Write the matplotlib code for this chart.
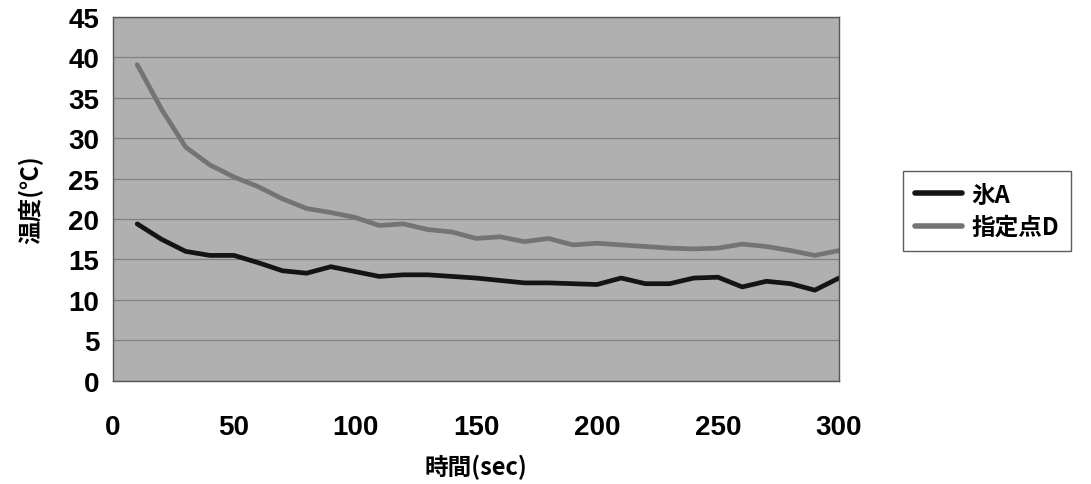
import numpy as np
import matplotlib
matplotlib.use("Agg")
import matplotlib.pyplot as plt

plt.rcParams['font.family'] = ['Liberation Sans', 'Noto Sans CJK JP', 'DejaVu Sans']

# time (sec) and temperatures
t = [10, 20, 30, 40, 50, 60, 70, 80, 90, 100,
     110, 120, 130, 140, 150, 160, 170, 180, 190, 200,
     210, 220, 230, 240, 250, 260, 270, 280, 290, 300]
ice_a = [19.4, 17.5, 16.0, 15.5, 15.5, 14.6, 13.6, 13.3, 14.1, 13.5,
         12.9, 13.1, 13.1, 12.9, 12.7, 12.4, 12.1, 12.1, 12.0, 11.9,
         12.7, 12.0, 12.0, 12.7, 12.8, 11.6, 12.3, 12.0, 11.2, 12.7]
point_d = [39.1, 33.6, 28.9, 26.7, 25.2, 24.0, 22.5, 21.3, 20.8, 20.2,
           19.2, 19.4, 18.7, 18.4, 17.6, 17.8, 17.2, 17.6, 16.8, 17.0,
           16.8, 16.6, 16.4, 16.3, 16.4, 16.9, 16.6, 16.1, 15.5, 16.1]
labels = ['氷A', '指定点D']

fig = plt.figure(figsize=(10.91, 4.85), dpi=100)
ax = fig.add_axes([0.1036, 0.213, 0.6654, 0.750])
ax.set_facecolor('#b0b0b0')

ax.plot(t, ice_a, color='#141414', lw=3.4, label=labels[0], solid_capstyle='round')
ax.plot(t, point_d, color='#747474', lw=3.4, label=labels[1], solid_capstyle='round')

ax.set_xlim(0, 300)
ax.set_ylim(0, 45)
ax.set_xticks(range(0, 301, 50))
ax.set_yticks(range(0, 46, 5))
ax.yaxis.grid(True, color='#808080', lw=0.9)
ax.set_axisbelow(True)
ax.tick_params(axis='both', length=0, labelsize=20)
ax.tick_params(axis='x', pad=24)
ax.tick_params(axis='y', pad=10)
for lab in ax.get_xticklabels():
    lab.set_family(['Liberation Sans Narrow', 'Liberation Sans'])
for lab in ax.get_xticklabels() + ax.get_yticklabels():
    lab.set_fontweight('bold')
for s in ax.spines.values():
    s.set_color('#555555')
    s.set_linewidth(1.0)

ax.set_xlabel('時間(sec)', family=['Noto Sans CJK JP', 'DejaVu Sans'],
              fontsize=17, fontweight='bold', labelpad=10)
ax.set_ylabel('温度(℃)', family=['Noto Sans CJK JP', 'DejaVu Sans'],
              fontsize=17, fontweight='bold', labelpad=18)

leg = fig.legend(loc='upper left', bbox_to_anchor=(891 / 1091, 1 - 160 / 485),
                 frameon=True, fancybox=False, handlelength=2.0,
                 prop={'family': ['Noto Sans CJK JP', 'DejaVu Sans'],
                       'size': 17, 'weight': 'bold'},
                 labelspacing=0.35, borderpad=0.5, handletextpad=0.4)
leg.get_frame().set_edgecolor('#333333')
leg.get_frame().set_linewidth(1.0)
for ln in leg.get_lines():
    ln.set_linewidth(4)

fig.savefig('out.png', dpi=100)
